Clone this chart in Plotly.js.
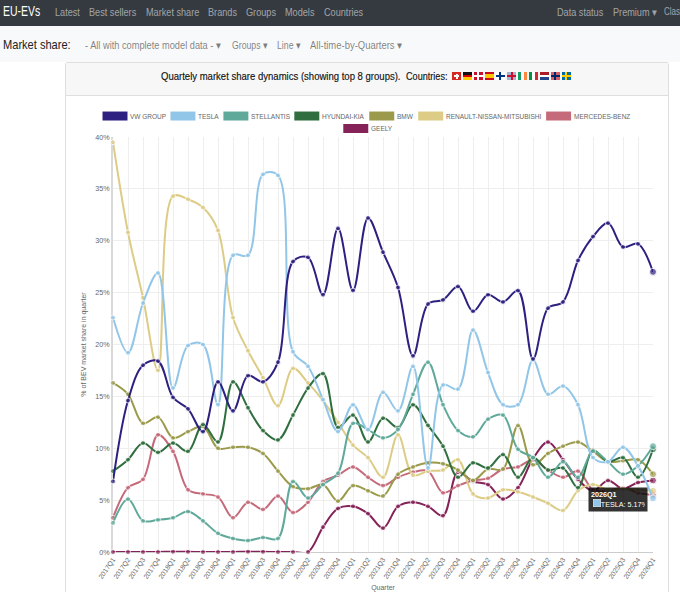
<!DOCTYPE html>
<html>
<head>
<meta charset="utf-8">
<script src="https://cdn.plot.ly/plotly-3.0.1.min.js"></script>
<style>
  html, body { margin: 0; padding: 0; width: 680px; height: 592px; overflow: hidden; background: #fff; font-family: "Liberation Sans", sans-serif; }
  #nav { position: absolute; left: 0; top: 0; width: 680px; height: 26px; background: #343a40; overflow: hidden; }
  #nav span { position: absolute; top: 6px; font-size: 10.5px; color: rgba(255,255,255,.55); white-space: nowrap; transform: scaleX(.87); transform-origin: left; }
  #nav .brand { top: 3px; left: 3px; font-size: 14.5px; color: #fff; transform: scaleX(.72); }
  #subnav { position: absolute; left: 0; top: 26px; width: 680px; height: 36px; background: #f8f9fa; }
  #subnav span { position: absolute; top: 13px; font-size: 10.5px; color: rgba(0,0,0,.5); white-space: nowrap; transform: scaleX(.83); transform-origin: left; }
  #subnav .head { left: 3px; top: 11px; font-size: 13.5px; color: #222; transform: scaleX(.82); }
  #card { position: absolute; left: 65px; top: 62px; width: 602px; height: 530px; border: 1px solid #dfdfdf; border-bottom: 0; border-radius: 3px 3px 0 0; }
  #cardhead { position: absolute; left: 0; top: 0; width: 602px; height: 32px; background: #f7f7f7; border-bottom: 1px solid #dfdfdf; }
  #cardhead span { position: absolute; top: 7px; font-size: 10.6px; color: #111; white-space: pre; -webkit-text-stroke: 0.15px #111; transform-origin: left; }
  #flags { position: absolute; left: 386px; top: 9px; display: flex; }
  #flags i { display: block; width: 9px; height: 8px; margin-right: 2px; }
  #chart { position: absolute; left: 66px; top: 95px; width: 602px; height: 497px; }
</style>
</head>
<body>
<div id="nav">
  <span class="brand">EU-EVs</span>
  <span style="left:55px">Latest</span>
  <span style="left:89px">Best sellers</span>
  <span style="left:146px">Market share</span>
  <span style="left:208px">Brands</span>
  <span style="left:246px">Groups</span>
  <span style="left:285px">Models</span>
  <span style="left:324px">Countries</span>
  <span style="left:557px">Data status</span>
  <span style="left:613px">Premium ▾</span>
  <span style="left:664px; font-size:10px; transform:scaleX(.8)">Clas</span>
</div>
<div id="subnav">
  <span class="head">Market share:</span>
  <span style="left:85px; transform:scaleX(.88)">- All with complete model data - ▾</span>
  <span style="left:232px">Groups ▾</span>
  <span style="left:277px">Line ▾</span>
  <span style="left:310px; transform:scaleX(.9)">All-time-by-Quarters ▾</span>
</div>
<div id="card">
  <div id="cardhead">
    <span style="left:95px; transform:scaleX(.9)">Quartely market share dynamics (showing top 8 groups).</span>
    <span style="left:340px; transform:scaleX(.86)">Countries:</span>
    <div id="flags"></div>
  </div>
</div>
<div id="chart"></div>

<script>
const quarters = [
  "2017Q1", "2017Q2", "2017Q3", "2017Q4", "2018Q1", "2018Q2", "2018Q3", "2018Q4",
  "2019Q1", "2019Q2", "2019Q3", "2019Q4", "2020Q1", "2020Q2", "2020Q3", "2020Q4",
  "2021Q1", "2021Q2", "2021Q3", "2021Q4", "2022Q1", "2022Q2", "2022Q3", "2022Q4",
  "2023Q1", "2023Q2", "2023Q3", "2023Q4", "2024Q1", "2024Q2", "2024Q3", "2024Q4",
  "2025Q1", "2025Q2", "2025Q3", "2025Q4", "2026Q1",
];

const vwGroup = [6.8, 14.6, 18.0, 18.4, 14.9, 13.8, 11.6, 16.4, 13.6, 17.0, 16.4, 18.3, 28.0, 28.4, 24.8, 31.2, 25.2, 32.2, 28.9, 25.5, 18.9, 23.9, 24.3, 25.6, 23.2, 24.8, 24.1, 25.2, 18.6, 23.5, 24.1, 28.1, 30.4, 31.7, 29.4, 29.7, 27.0];
const tesla = [22.6, 19.2, 24.0, 26.9, 15.8, 19.9, 20.0, 14.2, 28.6, 28.6, 36.4, 36.3, 19.3, 17.9, 14.7, 11.6, 14.2, 11.8, 15.4, 13.6, 17.9, 8.1, 16.1, 15.7, 21.4, 17.3, 14.2, 14.2, 18.5, 15.2, 16.0, 14.2, 9.1, 8.7, 10.1, 8.3, 5.17];
const stellantis = [2.8, 5.1, 3.0, 3.1, 3.3, 3.9, 3.0, 1.8, 1.3, 1.1, 1.4, 1.3, 6.8, 5.2, 6.5, 7.6, 12.4, 11.8, 11.0, 11.8, 15.2, 18.3, 14.2, 11.7, 11.1, 12.8, 13.2, 9.9, 9.1, 7.2, 8.7, 7.2, 9.7, 8.7, 7.5, 8.3, 10.2];
const hyundaiKia = [7.8, 8.9, 10.5, 9.6, 10.5, 9.7, 12.3, 10.6, 16.4, 13.9, 11.7, 10.8, 13.2, 15.8, 17.2, 12.0, 13.2, 10.6, 12.9, 12.0, 14.2, 12.2, 10.2, 7.2, 8.6, 8.1, 9.4, 7.2, 9.1, 7.9, 8.1, 6.2, 9.8, 8.7, 9.1, 7.2, 9.9];
const bmw = [16.3, 15.2, 12.4, 13.0, 11.0, 11.6, 12.1, 10.0, 10.1, 10.1, 9.5, 7.8, 6.3, 6.1, 6.5, 4.9, 6.4, 5.9, 5.4, 7.5, 8.2, 8.6, 8.5, 7.9, 6.9, 8.0, 8.0, 12.2, 8.4, 9.5, 10.2, 10.6, 9.7, 8.7, 8.8, 8.9, 7.5];
const renaultNissan = [39.5, 30.8, 24.5, 17.5, 34.3, 34.0, 33.2, 31.0, 22.6, 19.4, 16.8, 14.1, 17.7, 16.3, 14.6, 12.5, 10.3, 9.1, 7.2, 11.3, 7.4, 7.8, 7.9, 8.9, 5.6, 5.2, 6.0, 5.8, 5.3, 4.7, 4.0, 5.9, 6.5, 6.0, 6.1, 6.0, 5.9];
const mercedes = [3.3, 6.2, 7.0, 11.3, 9.7, 6.0, 5.6, 5.3, 3.3, 4.8, 4.1, 5.4, 3.8, 4.8, 6.8, 7.4, 8.2, 7.2, 6.4, 7.2, 7.7, 7.8, 5.7, 6.4, 6.9, 7.1, 8.0, 8.2, 8.9, 7.9, 7.2, 7.8, 6.0, 5.9, 6.2, 5.7, 5.5];
const geely = [0, 0, 0, 0, 0.03, 0.02, 0, 0, 0, 0.03, 0.02, 0, 0, 0, 2.4, 4.2, 4.4, 3.7, 2.3, 4.4, 4.8, 4.4, 3.5, 7.7, 6.8, 6.5, 5.1, 6.2, 9.0, 10.6, 8.9, 7.0, 5.9, 6.9, 6.1, 6.7, 6.9];

const seriesNames = ["VW GROUP", "TESLA", "STELLANTIS", "HYUNDAI-KIA", "BMW", "RENAULT-NISSAN-MITSUBISHI", "MERCEDES-BENZ", "GEELY"];
const seriesValues = [vwGroup, tesla, stellantis, hyundaiKia, bmw, renaultNissan, mercedes, geely];
const seriesColors = ["#2d2080", "#92c6e8", "#5fa99a", "#2f6e3e", "#9a9a4a", "#ddcc85", "#c46a7a", "#852258"];
const yTicks = [0, 5, 10, 15, 20, 25, 30, 35, 40];

// page size of the chart div and its margins
const W = 602, H = 497;
const M = { l: 46.5, r: 15, t: 42, b: 39.5 };
const plotW = W - M.l - M.r, plotH = H - M.t - M.b;
const px = (x) => (x - 66 - M.l) / plotW;
const py = (y) => 1 - (y - 95 - M.t) / plotH;

// chart.js style legend, drawn by hand because plotly has no wide box swatch
const legendBoxLeft = [102, 170, 223, 294, 369, 418, 546, 343];
const legendRowY = [116, 116, 116, 116, 116, 116, 116, 128.5];

const shapes = [];
const annotations = [];
seriesNames.forEach((name, i) => {
  shapes.push({
    type: "rect", xref: "paper", yref: "paper",
    x0: px(legendBoxLeft[i]), x1: px(legendBoxLeft[i] + 25),
    y0: py(legendRowY[i] - 4.5), y1: py(legendRowY[i] + 4.5),
    fillcolor: seriesColors[i], line: { width: 0 },
  });
  annotations.push({
    xref: "paper", yref: "paper", x: px(legendBoxLeft[i] + 25.5), y: py(legendRowY[i]),
    xanchor: "left", yanchor: "middle", showarrow: false, text: name,
    font: { size: 6.5, color: "#666" },
  });
});

// the tooltip left open on the last Tesla point
annotations.push({
  x: "2026Q1", y: 5.17, xref: "x", yref: "y", xanchor: "right", yanchor: "middle",
  xshift: -5, yshift: -1, showarrow: false, align: "left", width: 54, height: 19,
  text: "<b>2026Q1</b><br>     TESLA: 5.17%",
  font: { size: 7.2, color: "#fff" }, bgcolor: "rgba(0,0,0,0.8)", borderpad: 2,
});
annotations.push({
  x: "2026Q1", y: 5.17, xref: "x", yref: "y", xanchor: "left", yanchor: "middle",
  xshift: -60, yshift: -5, showarrow: false, text: " ", width: 7, height: 7,
  font: { size: 5 }, bgcolor: "#92c6e8", bordercolor: "#fff", borderwidth: 0.5, borderpad: 0,
});

// reversed so that the first dataset ends up on top
const traces = seriesNames.map((name, i) => ({
  type: "scatter",
  mode: "lines+markers",
  name: name,
  x: quarters,
  y: seriesValues[i],
  cliponaxis: false,
  line: { shape: "spline", smoothing: 1, color: seriesColors[i], width: 2 },
  marker: {
    color: seriesColors[i],
    size: quarters.map((q, k) => (k === quarters.length - 1 ? 7 : 5)),
  },
})).reverse();

const layout = {
  width: W,
  height: H,
  margin: M,
  paper_bgcolor: "rgba(0,0,0,0)",
  plot_bgcolor: "#fff",
  showlegend: false,
  font: { family: "Liberation Sans, sans-serif", color: "#666", size: 7 },
  xaxis: {
    type: "category",
    categoryorder: "array",
    categoryarray: quarters,
    range: [0, quarters.length - 1],
    tickangle: -55,
    tickfont: { size: 6.8, color: "#666" },
    gridcolor: "#eeeeee",
    showline: true,
    linecolor: "#cccccc",
    layer: "below traces",
    ticks: "",
    title: { text: "Quarter", font: { size: 7, color: "#666" }, standoff: 6 },
  },
  yaxis: {
    range: [0, 40],
    tickvals: yTicks,
    ticktext: yTicks.map((t) => t + "%"),
    tickfont: { size: 7.2, color: "#666" },
    gridcolor: "#eeeeee",
    zeroline: false,
    showline: true,
    linecolor: "#d9d9d9",
    linewidth: 2,
    layer: "below traces",
    ticks: "",
    title: { text: "% of BEV market share in quarter", font: { size: 7, color: "#666" }, standoff: 8 },
  },
  shapes: shapes,
  annotations: annotations,
  hovermode: false,
};

Plotly.newPlot("chart", traces, layout, { displayModeBar: false, staticPlot: true });

// small flags for the country list in the card header
const flagStyles = [
  "background:linear-gradient(#fff,#fff) center/5px 2px no-repeat,linear-gradient(#fff,#fff) center/2px 5px no-repeat,#d52b1e",
  "background:linear-gradient(#111 33%,#d00 33% 66%,#fc0 66%)",
  "background:linear-gradient(#fff,#fff) 0 50%/100% 2px no-repeat,linear-gradient(#fff,#fff) 3px 0/2px 100% no-repeat,#c8102e",
  "background:linear-gradient(#c60b1e 25%,#ffc400 25% 75%,#c60b1e 75%)",
  "background:linear-gradient(#003580,#003580) 0 50%/100% 2px no-repeat,linear-gradient(#003580,#003580) 3px 0/2px 100% no-repeat,#fff",
  "background:linear-gradient(#c8102e,#c8102e) 0 50%/100% 2px no-repeat,linear-gradient(#c8102e,#c8102e) 50% 0/2px 100% no-repeat,#a9b3cf",
  "background:linear-gradient(90deg,#169b62 33%,#fff 33% 66%,#ff883e 66%)",
  "background:linear-gradient(90deg,#009246 33%,#fff 33% 66%,#ce2b37 66%)",
  "background:linear-gradient(#ae1c28 33%,#fff 33% 66%,#21468b 66%)",
  "background:linear-gradient(#002868,#002868) 0 50%/100% 2px no-repeat,linear-gradient(#002868,#002868) 3px 0/2px 100% no-repeat,#d5606a",
  "background:linear-gradient(#fecc00,#fecc00) 0 50%/100% 2px no-repeat,linear-gradient(#fecc00,#fecc00) 3px 0/2px 100% no-repeat,#006aa7",
];
document.getElementById("flags").innerHTML = flagStyles.map((s) => `<i style="${s}"></i>`).join("");
</script>
</body>
</html>
